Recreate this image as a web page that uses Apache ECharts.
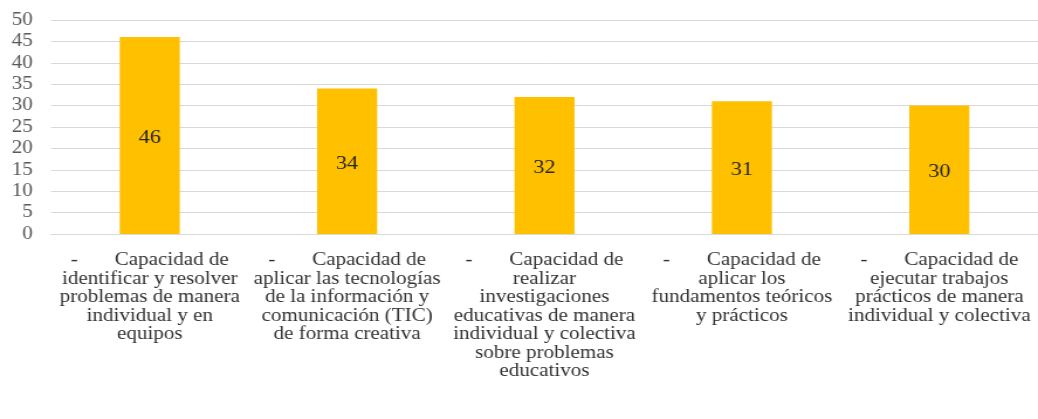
<!DOCTYPE html>
<html>
<head>
<meta charset="utf-8">
<script src="https://cdn.jsdelivr.net/npm/echarts@6/dist/echarts.min.js"></script>
<style>
  html, body { margin: 0; padding: 0; background: #fff; overflow: hidden; }
  /* the drawing is laid out at a narrower width and widened horizontally */
  #chart { width: 887px; height: 419px; transform: scaleX(1.1702); transform-origin: 0 0; }
</style>
</head>
<body>
<div id="chart"></div>
<script>
const SP = '\u00a0\u00a0\u00a0\u00a0\u00a0\u00a0\u00a0';

const categories = [
  '-' + SP + 'Capacidad de\nidentificar y resolver\nproblemas de manera\nindividual y en\nequipos',
  '-' + SP + 'Capacidad de\naplicar las tecnologías\nde la información y\ncomunicación (TIC)\nde forma creativa',
  '-' + SP + 'Capacidad de\nrealizar\ninvestigaciones\neducativas de manera\nindividual y colectiva\nsobre problemas\neducativos',
  '-' + SP + 'Capacidad de\naplicar los\nfundamentos teóricos\ny prácticos',
  '-' + SP + 'Capacidad de\nejecutar trabajos\nprácticos de manera\nindividual y colectiva'
];

const values = [46, 34, 32, 31, 30];

const yTicks = { min: 0, max: 50, interval: 5 };

const serif = 'Liberation Serif';

const chart = echarts.init(document.getElementById('chart'));
chart.setOption({
  animation: false,
  backgroundColor: '#ffffff',
  textStyle: { fontFamily: serif },
  grid: { left: 43.6, top: 20, width: 852.5, bottom: 185 },
  xAxis: {
    type: 'category',
    data: categories,
    axisLine: { show: true, lineStyle: { color: '#d9d9d9', width: 1 } },
    axisTick: { show: false },
    axisLabel: {
      interval: 0,
      margin: 17.5,
      fontFamily: serif,
      fontSize: 18,
      lineHeight: 18.5,
      color: '#333333',
      align: 'center'
    }
  },
  yAxis: {
    type: 'value',
    min: yTicks.min,
    max: yTicks.max,
    interval: yTicks.interval,
    axisLine: { show: false },
    axisTick: { show: false },
    splitLine: { lineStyle: { color: '#d9d9d9', width: 1 } },
    axisLabel: {
      margin: 15.5,
      fontFamily: serif,
      fontSize: 18,
      color: '#595959'
    }
  },
  series: [{
    type: 'bar',
    data: values,
    barWidth: 51.3,
    itemStyle: { color: '#ffc000' },
    label: {
      show: true,
      position: 'inside',
      offset: [0, 2.5],
      fontFamily: serif,
      fontSize: 19,
      color: '#262626'
    }
  }]
});
</script>
</body>
</html>
